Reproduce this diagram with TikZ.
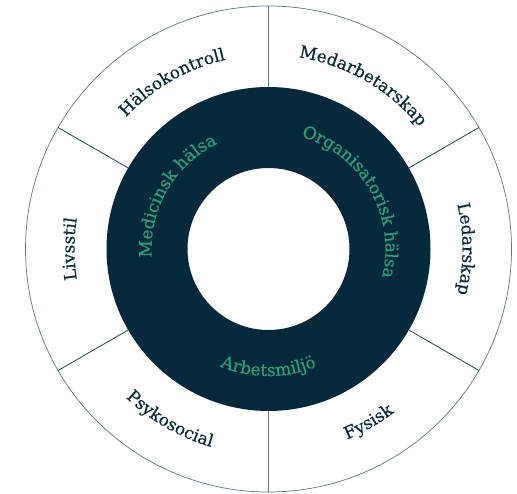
\documentclass[tikz,border=0pt]{standalone}
\usepackage{fontspec}
\usetikzlibrary{decorations.text,calc}
\newfontfamily\dvs[FakeBold=0.5]{DejaVu Serif}
\definecolor{ringc}{HTML}{03293A}
\definecolor{greenc}{HTML}{28A07A}
\definecolor{labelc}{HTML}{0A2A35}
\definecolor{circc}{HTML}{5B7780}
\definecolor{divc}{HTML}{1F4650}
\newcommand{\outfnt}{\dvs\fontsize{17}{20}\selectfont\color{labelc}}
\newcommand{\infnt}{\dvs\fontsize{17}{20}\selectfont\color{greenc}}
\tikzset{
  cwlabel/.style={decorate, decoration={text along path, text align=center, text={|\outfnt|#1}}},
  inlabel/.style={decorate, decoration={text along path, text align=center, text={|\infnt|#1}}},
  divider/.style={draw=divc, line width=0.8pt},
}
\begin{document}
\begin{tikzpicture}
\useasboundingbox (0pt,0pt) rectangle (517pt,-494pt);
\coordinate (c) at (268.5pt,-249pt);
% outer circle
\draw[circc, line width=0.7pt] (c) circle[radius=243pt];
% dark ring
\fill[ringc, even odd rule] (c) circle[radius=162pt] (c) circle[radius=81pt];
% dividers
\foreach \a/\col in {90/circc,270/circc,30/divc,150/divc,210/divc,330/divc}{
  \coordinate (p\a) at ($(c)+(\a:162pt)$);
  \coordinate (q\a) at ($(c)+(\a:243pt)$);
  \draw[draw=\col, line width=0.8pt] (p\a) -- (q\a);
}
% outer labels (clockwise, baseline inside)
\path[cwlabel={Hälsokontroll}] ($(c)+(180:194pt)$) arc[start angle=180, end angle=60, radius=194pt];
\path[cwlabel={Medarbetarskap}] ($(c)+(120:194pt)$) arc[start angle=120, end angle=0, radius=194pt];
\path[cwlabel={Ledarskap}] ($(c)+(60:194pt)$) arc[start angle=60, end angle=-60, radius=194pt];
\path[cwlabel={Livsstil}] ($(c)+(240:194pt)$) arc[start angle=240, end angle=120, radius=194pt];
% outer labels (counterclockwise)
\path[cwlabel={Psykosocial}] ($(c)+(180:206pt)$) arc[start angle=180, end angle=300, radius=206pt];
\path[cwlabel={Fysisk}] ($(c)+(240:206pt)$) arc[start angle=240, end angle=360, radius=206pt];
% inner labels
\path[inlabel={Medicinsk hälsa}] ($(c)+(230:117pt)$) arc[start angle=230, end angle=70, radius=117pt];
\path[inlabel={Organisatorisk hälsa}] ($(c)+(120:117pt)$) arc[start angle=120, end angle=-60, radius=117pt];
\path[inlabel={Arbetsmiljö}] ($(c)+(200:127pt)$) arc[start angle=200, end angle=340, radius=127pt];
\end{tikzpicture}
\end{document}
